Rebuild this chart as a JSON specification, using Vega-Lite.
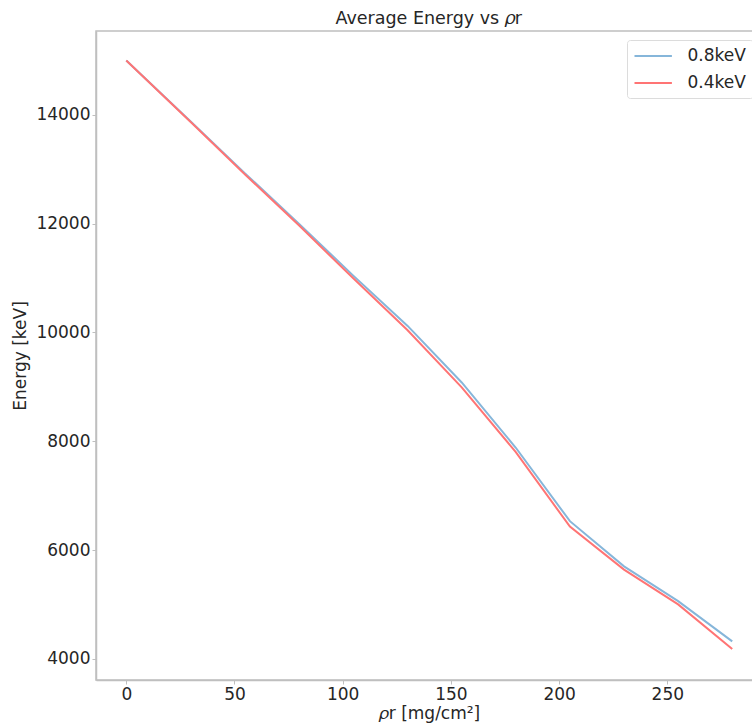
{
  "$schema": "https://vega.github.io/schema/vega-lite/v6.json",
  "autosize": {"type": "none"},
  "padding": {"left": 96, "top": 31, "right": 0, "bottom": 45},
  "width": 657.5,
  "height": 649,
  "background": "white",
  "config": {
    "font": "DejaVu Sans",
    "view": {"stroke": "#bfbfbf", "strokeWidth": 1.5},
    "axis": {
      "grid": false,
      "domainColor": "#bfbfbf",
      "domainWidth": 1.5,
      "tickColor": "#bfbfbf",
      "tickSize": 4,
      "tickWidth": 1,
      "labelFont": "DejaVu Sans",
      "labelFontSize": 17,
      "labelColor": "#262626",
      "labelPadding": 2,
      "titleFont": "DejaVu Sans",
      "titleFontSize": 17,
      "titleFontWeight": "normal",
      "titleColor": "#262626"
    }
  },
  "title": {
    "text": "Average Energy vs \ud835\udf0cr",
    "font": "DejaVu Sans",
    "fontSize": 17.5,
    "fontWeight": "normal",
    "color": "#262626",
    "anchor": "middle",
    "offset": 4,
    "dx": 4
  },
  "data": {
    "values": [
      {"rho_r": 0, "energy": 15000, "series": "0.8keV"},
      {"rho_r": 30, "energy": 13870, "series": "0.8keV"},
      {"rho_r": 55, "energy": 12920, "series": "0.8keV"},
      {"rho_r": 80, "energy": 11990, "series": "0.8keV"},
      {"rho_r": 105, "energy": 11040, "series": "0.8keV"},
      {"rho_r": 130, "energy": 10120, "series": "0.8keV"},
      {"rho_r": 155, "energy": 9080, "series": "0.8keV"},
      {"rho_r": 180, "energy": 7880, "series": "0.8keV"},
      {"rho_r": 205, "energy": 6530, "series": "0.8keV"},
      {"rho_r": 230, "energy": 5700, "series": "0.8keV"},
      {"rho_r": 255, "energy": 5060, "series": "0.8keV"},
      {"rho_r": 280, "energy": 4320, "series": "0.8keV"},
      {"rho_r": 0, "energy": 15000, "series": "0.4keV"},
      {"rho_r": 30, "energy": 13860, "series": "0.4keV"},
      {"rho_r": 55, "energy": 12900, "series": "0.4keV"},
      {"rho_r": 80, "energy": 11960, "series": "0.4keV"},
      {"rho_r": 105, "energy": 10990, "series": "0.4keV"},
      {"rho_r": 130, "energy": 10040, "series": "0.4keV"},
      {"rho_r": 155, "energy": 8990, "series": "0.4keV"},
      {"rho_r": 180, "energy": 7800, "series": "0.4keV"},
      {"rho_r": 205, "energy": 6430, "series": "0.4keV"},
      {"rho_r": 230, "energy": 5640, "series": "0.4keV"},
      {"rho_r": 255, "energy": 5000, "series": "0.4keV"},
      {"rho_r": 280, "energy": 4180, "series": "0.4keV"}
    ]
  },
  "encoding": {
    "x": {
      "field": "rho_r",
      "type": "quantitative",
      "scale": {"domain": [-14, 289.83], "nice": false, "zero": false},
      "axis": {
        "values": [0, 50, 100, 150, 200, 250],
        "title": "\ud835\udf0cr [mg/cm\u00b2]",
        "titlePadding": 3,
        "titleX": 333
      }
    },
    "y": {
      "field": "energy",
      "type": "quantitative",
      "scale": {"domain": [3610, 15542], "nice": false, "zero": false},
      "axis": {
        "values": [4000, 6000, 8000, 10000, 12000, 14000],
        "format": "d",
        "title": "Energy [keV]",
        "titlePadding": 6
      }
    },
    "color": {
      "field": "series",
      "type": "nominal",
      "scale": {"domain": ["0.8keV", "0.4keV"], "range": ["#86b6da", "#ff7474"]},
      "legend": {
        "title": null,
        "orient": "none",
        "legendX": 531,
        "legendY": 9,
        "symbolType": "M-1,0H3.4",
        "symbolSize": 289,
        "symbolStrokeWidth": 2,
        "labelOffset": 35,
        "labelFontSize": 17,
        "labelFont": "DejaVu Sans",
        "labelColor": "#262626",
        "rowPadding": 9,
        "padding": 6.5,
        "fillColor": "white",
        "strokeColor": "#dcdcdc",
        "cornerRadius": 3
      }
    }
  },
  "layer": [
    {
      "transform": [{"filter": "datum.series === '0.8keV'"}],
      "mark": {"type": "line", "strokeWidth": 2}
    },
    {
      "transform": [{"filter": "datum.series === '0.4keV'"}],
      "mark": {"type": "line", "strokeWidth": 2}
    }
  ]
}
